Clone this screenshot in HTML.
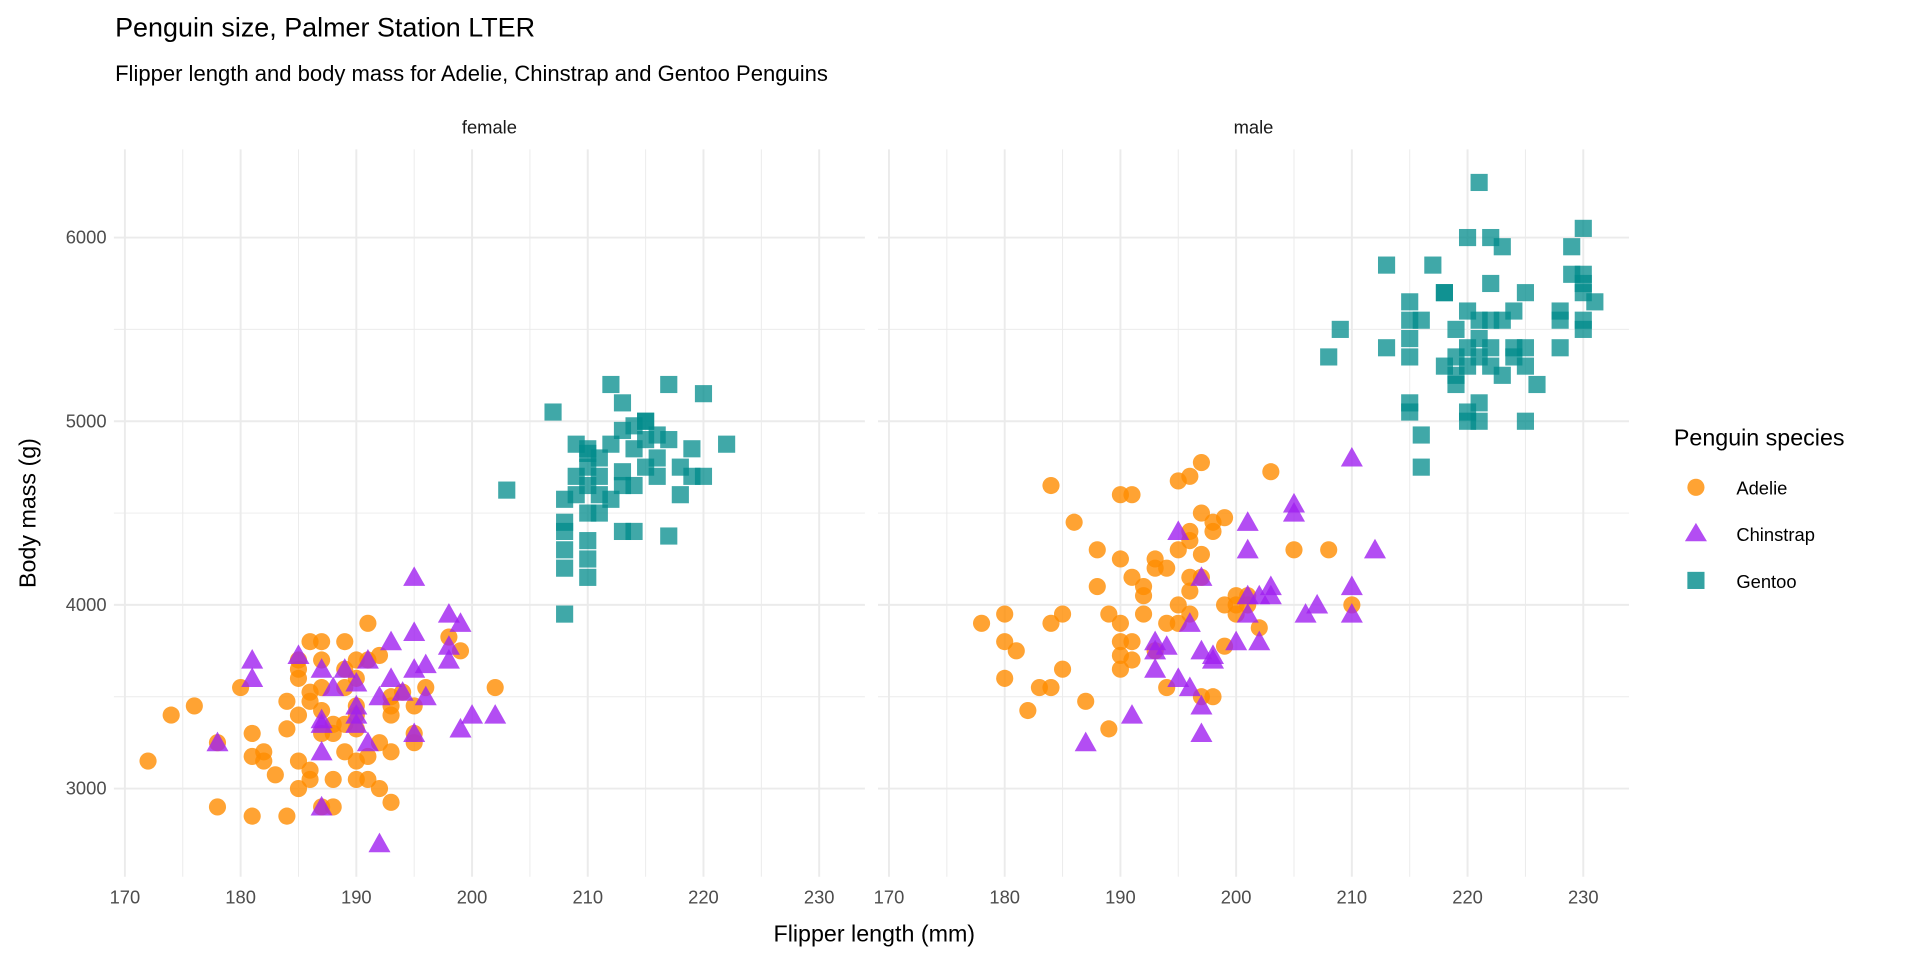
<!DOCTYPE html>
<html><head><meta charset="utf-8"><style>
body{margin:0;background:#fff;font-family:"Liberation Sans",Arial,sans-serif;overflow:hidden}
svg text{font-family:"Liberation Sans",Arial,sans-serif}
</style></head><body>
<svg id="chart" width="1920" height="960">
<g transform="scale(1.2245)">
<text x="94" y="30" font-size="22" fill="#000">Penguin size, Palmer Station LTER</text>
<text x="94" y="66" font-size="18" fill="#000">Flipper length and body mass for Adelie, Chinstrap and Gentoo Penguins</text>
<g id="panels"></g><g id="points"></g>
<text x="714" y="769" font-size="19" text-anchor="middle" fill="#000">Flipper length (mm)</text>
<text transform="translate(29,419) rotate(-90)" font-size="19" text-anchor="middle" fill="#000">Body mass (g)</text>
<g>
<text x="1367" y="364" font-size="19" fill="#000">Penguin species</text>
<circle cx="1385" cy="398" r="7" fill="#FF8C00" fill-opacity="0.8"/>
<text x="1418" y="404" font-size="15">Adelie</text>
<polygon points="1385,427 1394,442 1376,442" fill="#A020F0" fill-opacity="0.8"/>
<text x="1418" y="442" font-size="15">Chinstrap</text>
<rect x="1378" y="467" width="14" height="14" fill="#008B8B" fill-opacity="0.8"/>
<text x="1418" y="480" font-size="15">Gentoo</text>
</g>
</g>
</svg>
<script>
const xTicks=[170,180,190,200,210,220,230];
const yTicks=[3000,4000,5000,6000];
const panels=["female","male"];
const femaleAdelie=[[172,3150],[174,3400],[176,3450],[178,2900],[178,3250],[180,3550],[181,2850],[181,3300],[181,3175],[182,3200],[182,3150],[183,3075],[184,2850],[184,3325],[184,3475],[185,3400],[185,3600],[185,3700],[185,3000],[185,3150],[186,3800],[186,3525],[186,3100],[186,3050],[187,3800],[187,3700],[187,3425],[187,3300],[187,2900],[188,2900],[188,3050],[188,3350],[188,3300],[189,3800],[189,3200],[189,3550],[189,3650],[190,3700],[190,3050],[190,3325],[190,3600],[190,3450],[191,3900],[191,3175],[191,3050],[191,3700],[192,3000],[192,3250],[192,3725],[193,2925],[193,3400],[193,3200],[193,3450],[194,3525],[195,3250],[195,3450],[195,3300],[196,3550],[198,3825],[199,3750],[202,3550],[185,3650],[187,3550],[189,3350],[190,3400],[186,3475],[193,3500],[190,3150]];
const femaleChinstrap=[[178,3250],[181,3700],[181,3600],[185,3725],[187,3650],[187,3350],[187,3200],[187,2900],[188,3550],[189,3650],[190,3400],[190,3450],[190,3575],[191,3700],[191,3250],[192,2700],[192,3500],[193,3800],[193,3600],[194,3525],[195,3850],[195,3650],[195,3300],[195,4150],[196,3675],[196,3500],[198,3950],[198,3700],[198,3775],[199,3900],[199,3325],[200,3400],[202,3400],[187,3375],[190,3350]];
const femaleGentoo=[[203,4625],[207,5050],[208,3950],[208,4200],[208,4300],[208,4400],[208,4450],[208,4575],[209,4600],[209,4700],[209,4875],[210,4150],[210,4250],[210,4350],[210,4500],[210,4750],[210,4850],[210,4825],[211,4500],[211,4700],[211,4800],[212,4575],[212,4875],[212,5200],[213,4400],[213,4650],[213,4950],[213,5100],[213,4725],[214,4400],[214,4650],[214,4850],[214,4975],[215,5000],[215,4750],[215,5000],[215,4900],[216,4925],[216,4700],[216,4800],[217,4900],[217,4375],[217,5200],[218,4600],[218,4750],[219,4700],[219,4850],[220,5150],[220,4700],[222,4875],[211,4600],[210,4650]];
const maleAdelie=[[178,3900],[180,3950],[180,3600],[180,3800],[181,3750],[182,3425],[183,3550],[184,3550],[184,3900],[184,4650],[185,3950],[185,3650],[186,4450],[187,3475],[188,4300],[188,4100],[189,3950],[189,3325],[190,4600],[190,4250],[190,3900],[190,3800],[190,3725],[190,3650],[191,4600],[191,4150],[191,3800],[191,3700],[192,4100],[192,3950],[192,4050],[193,4250],[193,4200],[193,3750],[194,4200],[194,3550],[195,4675],[195,4300],[195,4000],[195,3900],[196,4700],[196,4400],[196,4150],[196,4350],[196,4075],[197,4775],[197,4500],[197,4275],[197,4150],[197,3500],[198,4400],[198,4450],[198,3500],[199,4475],[199,4000],[199,3775],[200,4050],[200,4000],[200,3950],[201,4000],[201,4050],[202,3875],[203,4725],[205,4300],[208,4300],[210,4000],[196,3950],[194,3900]];
const maleChinstrap=[[187,3250],[191,3400],[193,3800],[193,3650],[193,3750],[194,3775],[195,4400],[195,3600],[196,3550],[196,3900],[197,4150],[197,3750],[197,3450],[197,3300],[198,3700],[200,3800],[201,4450],[201,4300],[201,4050],[201,3950],[202,3800],[202,4050],[203,4050],[203,4100],[205,4550],[205,4500],[206,3950],[207,4000],[210,4800],[210,4100],[210,3950],[212,4300],[198,3725]];
const maleGentoo=[[208,5350],[209,5500],[213,5400],[213,5850],[215,5650],[215,5550],[215,5450],[215,5350],[215,5100],[215,5050],[216,4925],[216,4750],[216,5550],[217,5850],[218,5700],[218,5700],[218,5300],[219,5500],[219,5250],[219,5200],[220,6000],[220,5600],[220,5400],[220,5300],[220,5050],[220,5000],[221,5450],[221,5350],[221,5100],[221,5000],[221,6300],[222,6000],[222,5750],[222,5550],[222,5400],[222,5300],[223,5950],[223,5550],[223,5250],[224,5350],[224,5400],[224,5600],[225,5700],[225,5400],[225,5000],[225,5300],[226,5200],[228,5600],[228,5550],[228,5400],[229,5950],[229,5800],[230,6050],[230,5800],[230,5700],[230,5750],[230,5550],[230,5500],[231,5650],[219,5350],[221,5550]];

const NS="http://www.w3.org/2000/svg";
const offs=[0,624];
function xS(v,p){return 102+(v-170)*9.45+offs[p];}
function yS(v){return 644-(v-3000)*0.15;}
const xMin=169.05,xMax=233.95,yMin=2520,yMax=6480;
function mk(tag,attrs,parent){const e=document.createElementNS(NS,tag);for(const k in attrs)e.setAttribute(k,attrs[k]);parent.appendChild(e);return e;}
const pg=document.getElementById('panels');
panels.forEach((name,p)=>{
  const g=mk('g',{},pg);
  
  
  const x0=xS(xMin,p),x1=xS(xMax,p),y0=yS(yMax),y1=yS(yMin);
  for(let v=3500;v<=6000;v+=1000){mk('line',{x1:x0,x2:x1,y1:yS(v),y2:yS(v),stroke:'#EBEBEB','stroke-width':0.8},g);}
  for(let v=175;v<=230;v+=10){mk('line',{x1:xS(v,p),x2:xS(v,p),y1:y0,y2:y1,stroke:'#EBEBEB','stroke-width':0.8},g);}
  yTicks.forEach(v=>{
    const l=mk('line',{x1:x0,x2:x1,y1:yS(v),y2:yS(v),stroke:'#EBEBEB','stroke-width':1.6},g);
    
    
  });
  xTicks.forEach(v=>{
    const l=mk('line',{x1:xS(v,p),x2:xS(v,p),y1:y0,y2:y1,stroke:'#EBEBEB','stroke-width':1.6},g);
    
    
    const t=mk('text',{x:xS(v,p),y:738,'text-anchor':'middle','font-size':15,fill:'#4D4D4D'},g);
    t.textContent=v;
    
    
  });
  if(p===0){yTicks.forEach(v=>{
    const t=mk('text',{x:87,y:yS(v)+5,'text-anchor':'end','font-size':15,fill:'#4D4D4D'},g);
    t.textContent=v;
    
    
  });}
  const s=mk('text',{x:(x0+x1)/2,y:109,'text-anchor':'middle','font-size':15,fill:'#1A1A1A'},g);
  s.textContent=name;
  
  
});
const ptg=document.getElementById('points');
function draw(data,p,shape,color,label){
  data.forEach(d=>{
    const cx=xS(d[0],p),cy=yS(d[1]);let e;
    if(shape==='c')e=mk('circle',{cx:cx,cy:cy,r:7,fill:color,'fill-opacity':0.8},ptg);
    else if(shape==='t')e=mk('polygon',{points:`${cx},${cy-9} ${cx+9},${cy+7} ${cx-9},${cy+7}`,fill:color,'fill-opacity':0.8},ptg);
    else e=mk('rect',{x:cx-7,y:cy-7,width:14,height:14,fill:color,'fill-opacity':0.75},ptg);
    
    
  });
}
draw(femaleGentoo,0,'s','#008B8B','point-gentoo-female');
draw(maleGentoo,1,'s','#008B8B','point-gentoo-male');
draw(femaleAdelie,0,'c','#FF8C00','point-adelie-female');
draw(maleAdelie,1,'c','#FF8C00','point-adelie-male');
draw(femaleChinstrap,0,'t','#A020F0','point-chinstrap-female');
draw(maleChinstrap,1,'t','#A020F0','point-chinstrap-male');
</script>
</body></html>
